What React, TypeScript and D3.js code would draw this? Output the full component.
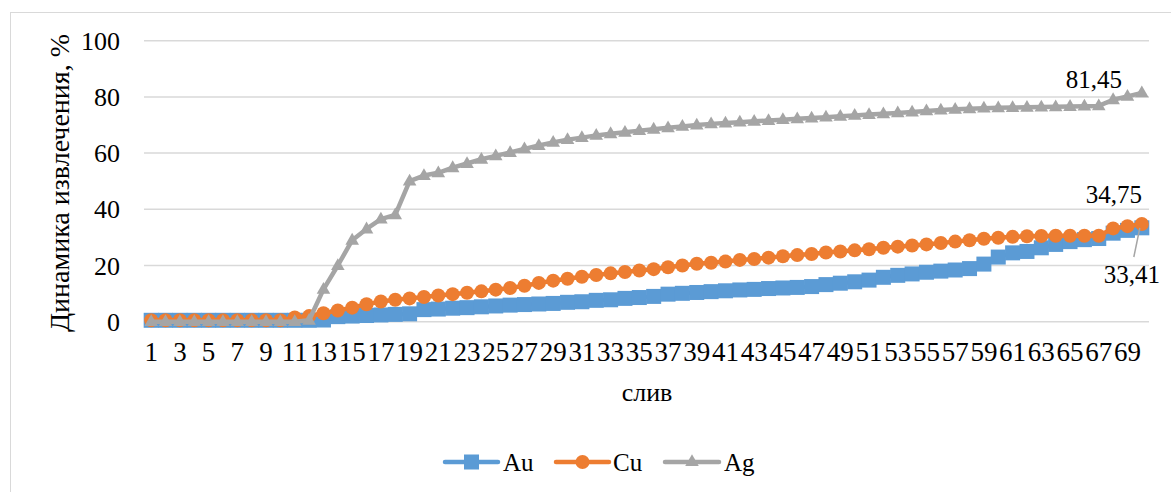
import React from "react";
import * as d3 from "d3";

const categories: string[] = Array.from({ length: 70 }, (_, i) => String(i + 1));

const auValues: number[] = [
  0.5, 0.5, 0.5, 0.5, 0.5, 0.5, 0.5, 0.5, 0.5, 0.5,
  0.5, 0.5, 0.6, 1.8, 2, 2.2, 2.4, 2.6, 2.8, 4.3,
  4.5, 4.8, 5, 5.3, 5.6, 5.9, 6.1, 6.3, 6.5, 6.9,
  7.1, 7.6, 7.8, 8.3, 8.6, 9, 9.8, 10.1, 10.4, 10.7,
  11, 11.3, 11.5, 11.8, 12, 12.2, 12.5, 13.2, 13.7, 14.2,
  14.8, 15.8, 16.5, 17, 17.6, 18, 18.4, 18.9, 20.5, 23,
  24.5, 25, 26.3, 27.5, 28.5, 29.2, 29.6, 31.5, 32.5, 33.41,
];

const cuValues: number[] = [
  0.5, 0.5, 0.5, 0.5, 0.5, 0.5, 0.5, 0.5, 0.5, 0.5,
  1.5, 2, 3, 4, 5, 6.2, 7.2, 7.8, 8.3, 8.8,
  9.3, 9.8, 10.3, 10.8, 11.4, 12, 12.8, 13.8, 14.6, 15.3,
  16, 16.6, 17.2, 17.7, 18.2, 18.7, 19.4, 20, 20.6, 21,
  21.4, 22, 22.3, 22.8, 23.3, 23.7, 24.1, 24.6, 25, 25.4,
  25.8, 26.3, 26.7, 27.1, 27.5, 28, 28.5, 29, 29.5, 29.9,
  30.2, 30.4, 30.5, 30.6, 30.6, 30.6, 30.6, 33.2, 34, 34.75,
];

const agValues: number[] = [
  0, 0, 0, 0, 0, 0, 0, 0, 0, 0,
  0, 0.5, 11.5, 20, 29, 33, 36.5, 38, 50, 52,
  53, 54.8, 56.3, 57.8, 59, 60.2, 61.5, 62.7, 63.8, 64.8,
  65.5, 66.3, 66.9, 67.4, 68, 68.5, 69, 69.5, 70, 70.4,
  70.7, 71, 71.3, 71.6, 71.9, 72.2, 72.5, 72.8, 73.1, 73.4,
  73.7, 74, 74.3, 74.6, 75, 75.3, 75.6, 75.8, 76, 76.1,
  76.2, 76.3, 76.4, 76.5, 76.6, 76.7, 76.8, 79, 80.2, 81.45,
];

const yTicks: number[] = [0, 20, 40, 60, 80, 100];
const seriesNames: string[] = ["Au", "Cu", "Ag"];
const seriesColors: string[] = ["#5B9BD5", "#ED7D31", "#A5A5A5"];
const endLabels: string[] = ["33,41", "34,75", "81,45"];

const W = 1171;
const H = 492;
const FONT = "Liberation Serif, Times New Roman, DejaVu Serif, serif";

export default function App() {
  const left = 144;
  const right = 1149;
  const top = 40.7;
  const bottom = 321.7;

  const x = d3.scaleBand<string>().domain(categories).range([left, right]);
  const cx = (i: number) => (x(categories[i]) as number) + x.bandwidth() / 2;
  const y = d3.scaleLinear().domain([0, 100]).range([bottom, top]);

  const line = d3
    .line<number>()
    .x((_, i) => cx(i))
    .y((d) => y(d));

  const allSeries = [auValues, cuValues, agValues];
  const tri = d3.symbol(d3.symbolTriangle, 80)() as string;

  const marker = (s: number, i: number, v: number) => {
    const px = cx(i);
    const py = y(v);
    const color = seriesColors[s];
    if (s === 0) {
      return <rect key={i} x={px - 7.5} y={py - 7.5} width={15} height={15} fill={color} />;
    }
    if (s === 1) {
      return <circle key={i} cx={px} cy={py} r={7} fill={color} />;
    }
    return <path key={i} d={tri} transform={`translate(${px},${py + 0.5})`} fill={color} />;
  };

  const legendMarker = (s: number, mx: number, my: number) => {
    const color = seriesColors[s];
    if (s === 0) return <rect x={mx - 7.5} y={my - 7.5} width={15} height={15} fill={color} />;
    if (s === 1) return <circle cx={mx} cy={my} r={7} fill={color} />;
    return <path d={tri} transform={`translate(${mx},${my})`} fill={color} />;
  };

  const legendItems = [
    { lx1: 445, lx2: 498, tx: 503 },
    { lx1: 556, lx2: 609, tx: 613 },
    { lx1: 665, lx2: 719, tx: 724 },
  ];
  const legendY = 462;

  const last = categories.length - 1;
  const txt = { fontFamily: FONT, fill: "#000" };

  return (
    <svg width={W} height={H} style={{ position: "absolute", left: 0, top: 0, fontFamily: FONT }}>
      <rect x={0} y={0} width={W} height={H} fill="#fff" />
      <rect x={10.5} y={12.5} width={W + 20} height={H + 20} fill="#fff" stroke="#d9d9d9" strokeWidth={1} />

      {yTicks.map((t) => (
        <g key={t}>
          <line x1={left} x2={right} y1={y(t)} y2={y(t)} stroke="#d9d9d9" strokeWidth={1.5} />
          <text x={120} y={y(t)} dy="0.35em" textAnchor="end" fontSize={26} style={txt}>
            {t}
          </text>
        </g>
      ))}

      {categories.map((c, i) =>
        i % 2 === 0 ? (
          <text key={c} x={cx(i)} y={352} dy="0.35em" textAnchor="middle" fontSize={27} style={txt}>
            {c}
          </text>
        ) : null
      )}

      <text x={647} y={392} dy="0.35em" textAnchor="middle" fontSize={26} style={txt}>
        слив
      </text>
      <text
        transform={`translate(59,183) rotate(-90)`}
        dy="0.35em"
        textAnchor="middle"
        fontSize={28}
        style={txt}
      >
        Динамика извлечения, %
      </text>

      {allSeries.map((vals, s) => (
        <g key={s}>
          <path d={line(vals) as string} fill="none" stroke={seriesColors[s]} strokeWidth={4.5} strokeLinejoin="round" strokeLinecap="round" />
          {vals.map((v, i) => marker(s, i, v))}
        </g>
      ))}

      <line x1={cx(last) - 2} y1={228} x2={cx(last) - 8} y2={257} stroke="#A5A5A5" strokeWidth={1.5} />
      <text x={1160} y={283} textAnchor="end" fontSize={25} style={txt}>
        {endLabels[0]}
      </text>
      <text x={1142} y={203} textAnchor="end" fontSize={25} style={txt}>
        {endLabels[1]}
      </text>
      <text x={1122} y={88} textAnchor="end" fontSize={25} style={txt}>
        {endLabels[2]}
      </text>

      {seriesNames.map((n, s) => {
        const it = legendItems[s];
        return (
          <g key={n}>
            <line x1={it.lx1} x2={it.lx2} y1={legendY} y2={legendY} stroke={seriesColors[s]} strokeWidth={4.5} strokeLinecap="round" />
            {legendMarker(s, (it.lx1 + it.lx2) / 2, legendY)}
            <text x={it.tx} y={legendY} dy="0.35em" fontSize={25} style={txt}>
              {n}
            </text>
          </g>
        );
      })}
    </svg>
  );
}
